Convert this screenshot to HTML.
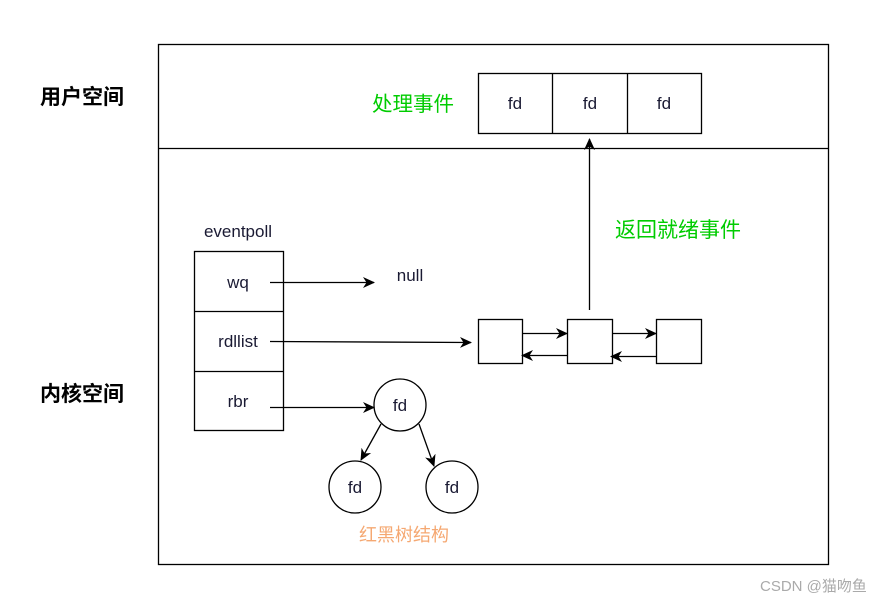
<!DOCTYPE html>
<html><head><meta charset="utf-8"><style>
body{margin:0;background:#fff}
text{font-family:"Liberation Sans","Noto Sans CJK SC",sans-serif}
</style></head><body>
<svg width="878" height="601" viewBox="0 0 878 601" xmlns="http://www.w3.org/2000/svg">
<defs><marker id="a" markerWidth="12" markerHeight="12" refX="11" refY="6" orient="auto" markerUnits="userSpaceOnUse"><path d="M0,0.5 L12,6 L0,11.5 L3.5,6 Z" fill="#000"/></marker></defs>
<g fill="none" stroke="#000" stroke-width="1.3">
<rect x="158.5" y="44.5" width="670" height="520"/>
<line x1="158" y1="148.5" x2="828" y2="148.5"/>
<rect x="478.5" y="73.5" width="223" height="60"/>
<line x1="552.5" y1="73" x2="552.5" y2="133"/>
<line x1="627.5" y1="73" x2="627.5" y2="133"/>
<line x1="589.5" y1="310" x2="589.5" y2="139" marker-end="url(#a)"/>
<rect x="194.5" y="251.5" width="89" height="179"/>
<line x1="194" y1="311.5" x2="283" y2="311.5"/>
<line x1="194" y1="371.5" x2="283" y2="371.5"/>
<line x1="270" y1="282.5" x2="374" y2="282.5" marker-end="url(#a)"/>
<line x1="270" y1="341.5" x2="471" y2="342.5" marker-end="url(#a)"/>
<line x1="270" y1="407.5" x2="374" y2="407.5" marker-end="url(#a)"/>
<rect x="478.5" y="319.5" width="44" height="44"/>
<rect x="567.5" y="319.5" width="45" height="44"/>
<rect x="656.5" y="319.5" width="45" height="44"/>
<line x1="523" y1="333.5" x2="567" y2="333.5" marker-end="url(#a)"/>
<line x1="567" y1="355.5" x2="522" y2="355.5" marker-end="url(#a)"/>
<line x1="612" y1="333.5" x2="656" y2="333.5" marker-end="url(#a)"/>
<line x1="656" y1="356.5" x2="611" y2="356.5" marker-end="url(#a)"/>
<circle cx="400" cy="405" r="26"/>
<circle cx="355" cy="487" r="26"/>
<circle cx="452" cy="487" r="26"/>
<line x1="381" y1="424" x2="361" y2="460" marker-end="url(#a)"/>
<line x1="419" y1="424" x2="434" y2="466" marker-end="url(#a)"/>
</g>
<g font-size="17" fill="#1a1a33" text-anchor="middle">
<text x="515" y="109">fd</text><text x="590" y="109">fd</text><text x="664" y="109">fd</text>
<text x="238" y="237">eventpoll</text>
<text x="238" y="288">wq</text><text x="238" y="347">rdllist</text><text x="238" y="407">rbr</text>
<text x="410" y="281">null</text>
<text x="400" y="411">fd</text><text x="355" y="493">fd</text><text x="452" y="493">fd</text>
</g>
<g font-size="21" font-weight="bold" fill="#000">
<text x="40" y="104">用户空间</text><text x="40" y="401">内核空间</text>
</g>
<text x="372" y="111" font-size="20.5" fill="#00cc00">处理事件</text>
<text x="615" y="237" font-size="21" fill="#00cc00">返回就绪事件</text>
<text x="359" y="541" font-size="18" fill="#f5a872">红黑树结构</text>
<text x="760" y="591" font-size="15" fill="#aaa">CSDN @猫吻鱼</text>
</svg>
</body></html>
